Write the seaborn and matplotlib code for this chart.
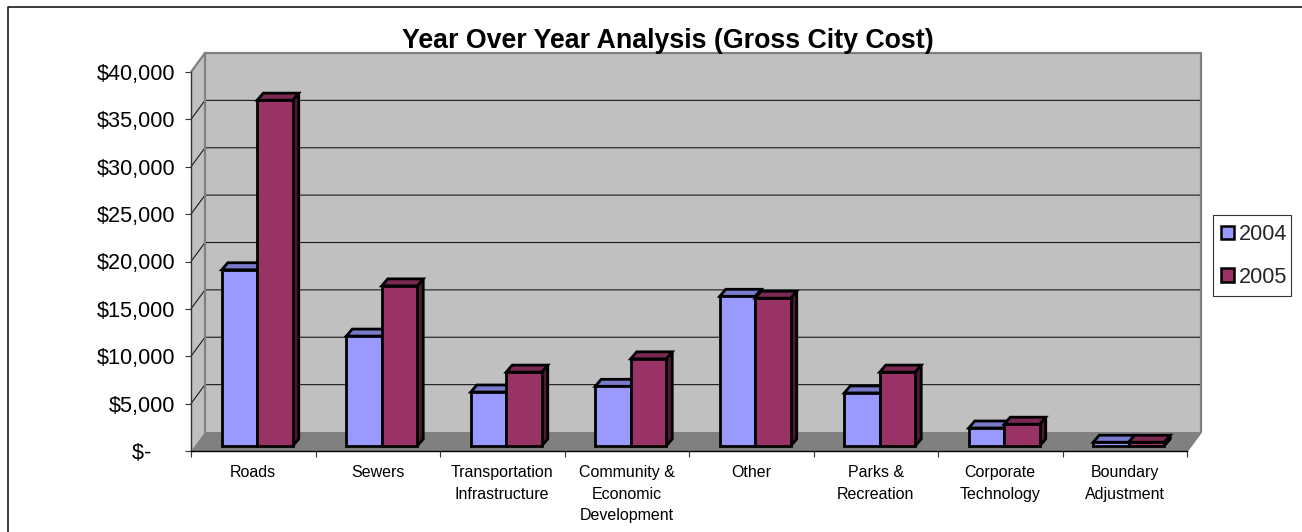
import numpy as np
import pandas as pd
import matplotlib
matplotlib.use('Agg')
import matplotlib.pyplot as plt
import seaborn as sns
from matplotlib.lines import Line2D
from matplotlib.patches import Patch, Polygon, Rectangle
from matplotlib.ticker import FixedLocator, FuncFormatter
from matplotlib.transforms import Affine2D, IdentityTransform

categories = ['Roads', 'Sewers', 'Transportation\nInfrastructure',
              'Community &\nEconomic\nDevelopment', 'Other', 'Parks &\nRecreation',
              'Corporate\nTechnology', 'Boundary\nAdjustment']
cost_2004 = [18600, 11600, 5700, 6300, 15800, 5600, 1900, 400]
cost_2005 = [36500, 16900, 7800, 9200, 15600, 7800, 2300, 400]
y_ticks = [0, 5000, 10000, 15000, 20000, 25000, 30000, 35000, 40000]

df = pd.DataFrame({'Category': categories * 2,
                   'Year': ['2004'] * 8 + ['2005'] * 8,
                   'Cost': cost_2004 + cost_2005})

W, H = 1302, 532
sns.set_theme(style='white')
plt.rcParams['font.family'] = ['Liberation Sans', 'DejaVu Sans']

fig = plt.figure(figsize=(W / 100, H / 100), dpi=100)
# axes = front plane of the fake 3d box
ax = fig.add_axes([191 / W, 1 - 451 / H, (1187 - 191) / W, (451 - 72) / H])
ax.patch.set_visible(False)

colors = {'2004': '#9999FF', '2005': '#993366'}
tops = {'2004': '#7A7ACC', '2005': '#7A2952'}
sides = {'2004': '#4D4D80', '2005': '#4D1A33'}

sns.barplot(data=df, x='Category', y='Cost', hue='Year', palette=colors,
            width=0.57, gap=0, saturation=1, legend=False, ax=ax)
ax.set_xlim(-0.5, 7.5)
ax.set_ylim(0, 40000)
fig.canvas.draw()

pix = IdentityTransform()
# wall depth and bar offset, display pixels
wall_dx, wall_dy = 14, 19
bar_dx, bar_dy = 4, 5
top_dx, top_dy = 6, 7
edge_lw = 2.0

bars = list(ax.patches)


def poly(pts, fc, ec='none', lw=0, z=1):
    ax.add_patch(Polygon(pts, closed=True, fc=fc, ec=ec, lw=lw, transform=pix,
                         clip_on=False, zorder=z, joinstyle='miter'))


(x0, y0), (x1, y1) = ax.transData.transform([(-0.5, 0), (7.5, 40000)])

# back wall, side wall, floor
poly([(x0 + wall_dx, y0 + wall_dy), (x1 + wall_dx, y0 + wall_dy),
      (x1 + wall_dx, y1 + wall_dy), (x0 + wall_dx, y1 + wall_dy)], '#C0C0C0', z=0.5)
poly([(x0, y0), (x0 + wall_dx, y0 + wall_dy),
      (x0 + wall_dx, y1 + wall_dy), (x0, y1)], '#C0C0C0', z=0.5)
poly([(x0, y0), (x1, y0), (x1 + wall_dx, y0 + wall_dy),
      (x0 + wall_dx, y0 + wall_dy)], '#808080', z=0.6)

# gridlines run along the wall and down the side wall
for t in y_ticks[1:-1]:
    _, yy = ax.transData.transform((0, t))
    ax.add_line(Line2D([x0, x0 + wall_dx, x1 + wall_dx],
                       [yy, yy + wall_dy, yy + wall_dy], color='#1a1a1a', lw=0.8,
                       transform=pix, clip_on=False, zorder=0.8))

# wall outline
ax.add_line(Line2D([x0, x0 + wall_dx, x1 + wall_dx, x1 + wall_dx, x1],
                   [y1, y1 + wall_dy, y1 + wall_dy, y0 + wall_dy, y0],
                   color='#808080', lw=1.6, transform=pix, clip_on=False, zorder=0.9))
ax.add_line(Line2D([x0 + wall_dx, x0 + wall_dx], [y1 + wall_dy, y0 + wall_dy],
                   color='#808080', lw=1.6, transform=pix, clip_on=False, zorder=0.9))

# move each bar off the front plane and give it a top and side face
years = ['2004'] * 8 + ['2005'] * 8
for i, (bar, year) in enumerate(zip(bars, years)):
    (a, b), (c, d) = ax.transData.transform(
        [(bar.get_x(), 0), (bar.get_x() + bar.get_width(), bar.get_height())])
    a, c, b, d = a + bar_dx, c + bar_dx, b + bar_dy, d + bar_dy
    z = 2 + 0.01 * (i % 8) + (0.1 if year == '2005' else 0)
    poly([(c, b), (c + top_dx, b + top_dy), (c + top_dx, d + top_dy), (c, d)],
         sides[year], 'black', edge_lw, z)
    poly([(a, d), (c, d), (c + top_dx, d + top_dy), (a + top_dx, d + top_dy)],
         tops[year], 'black', edge_lw, z)
    bar.set_transform(ax.transData + Affine2D().translate(bar_dx, bar_dy))
    bar.set(edgecolor='black', linewidth=edge_lw, clip_on=False, zorder=z + 0.001)

# axes, ticks
for s in ['top', 'right']:
    ax.spines[s].set_visible(False)
ax.spines['left'].set_color('#333333')
ax.spines['left'].set_linewidth(1.0)
ax.spines['bottom'].set_color('black')
ax.spines['bottom'].set_linewidth(1.0)

ax.set_yticks(y_ticks)
ax.yaxis.set_major_formatter(FuncFormatter(lambda v, p: '$-    ' if v == 0 else f'${v:,.0f}'))
ax.tick_params(axis='y', which='major', left=True, length=4.5, width=0.8, color='#333333',
               labelsize=15.6, labelcolor='black', pad=7)
ax.tick_params(axis='x', which='major', bottom=False, labelsize=11.5, labelcolor='black', pad=4)
ax.xaxis.set_minor_locator(FixedLocator(np.arange(-0.5, 8, 1)))
ax.tick_params(axis='x', which='minor', bottom=True, length=4.5, width=0.8, color='#333333')
for lab in ax.get_xticklabels():
    lab.set_linespacing(1.56)
ax.set_xlabel('')
ax.set_ylabel('')

fig.text(667.5 / W, 1 - 41.5 / H, 'Year Over Year Analysis (Gross City Cost)',
         ha='center', va='center', fontsize=19.25, fontweight='bold', color='black')

# legend box drawn by hand, its padding differs across and down
fig.add_artist(Rectangle((1212.5 / W, 1 - 295.5 / H), 78 / W, 81 / H, fc='white', ec='#333333',
                         lw=0.8, transform=fig.transFigure))
handles = [Patch(fc=colors[y], ec='black', lw=1.8, label=y) for y in ['2004', '2005']]
leg = fig.legend(handles=handles, loc='center left',
                 bbox_to_anchor=(1221 / W, 1 - 256 / H), fontsize=15.6, frameon=False,
                 handlelength=0.6, handleheight=0.6, handletextpad=0.22,
                 borderpad=0, borderaxespad=0, labelspacing=1.0)
leg.set_zorder(5)

# chart border, only top and left are in frame
fig.add_artist(Line2D([7.5 / W, 7.5 / W, 1], [0, 1 - 6.5 / H, 1 - 6.5 / H], color='#1a1a1a', lw=1.2,
                      transform=fig.transFigure))

fig.savefig('out.png', dpi=100, facecolor='white')
